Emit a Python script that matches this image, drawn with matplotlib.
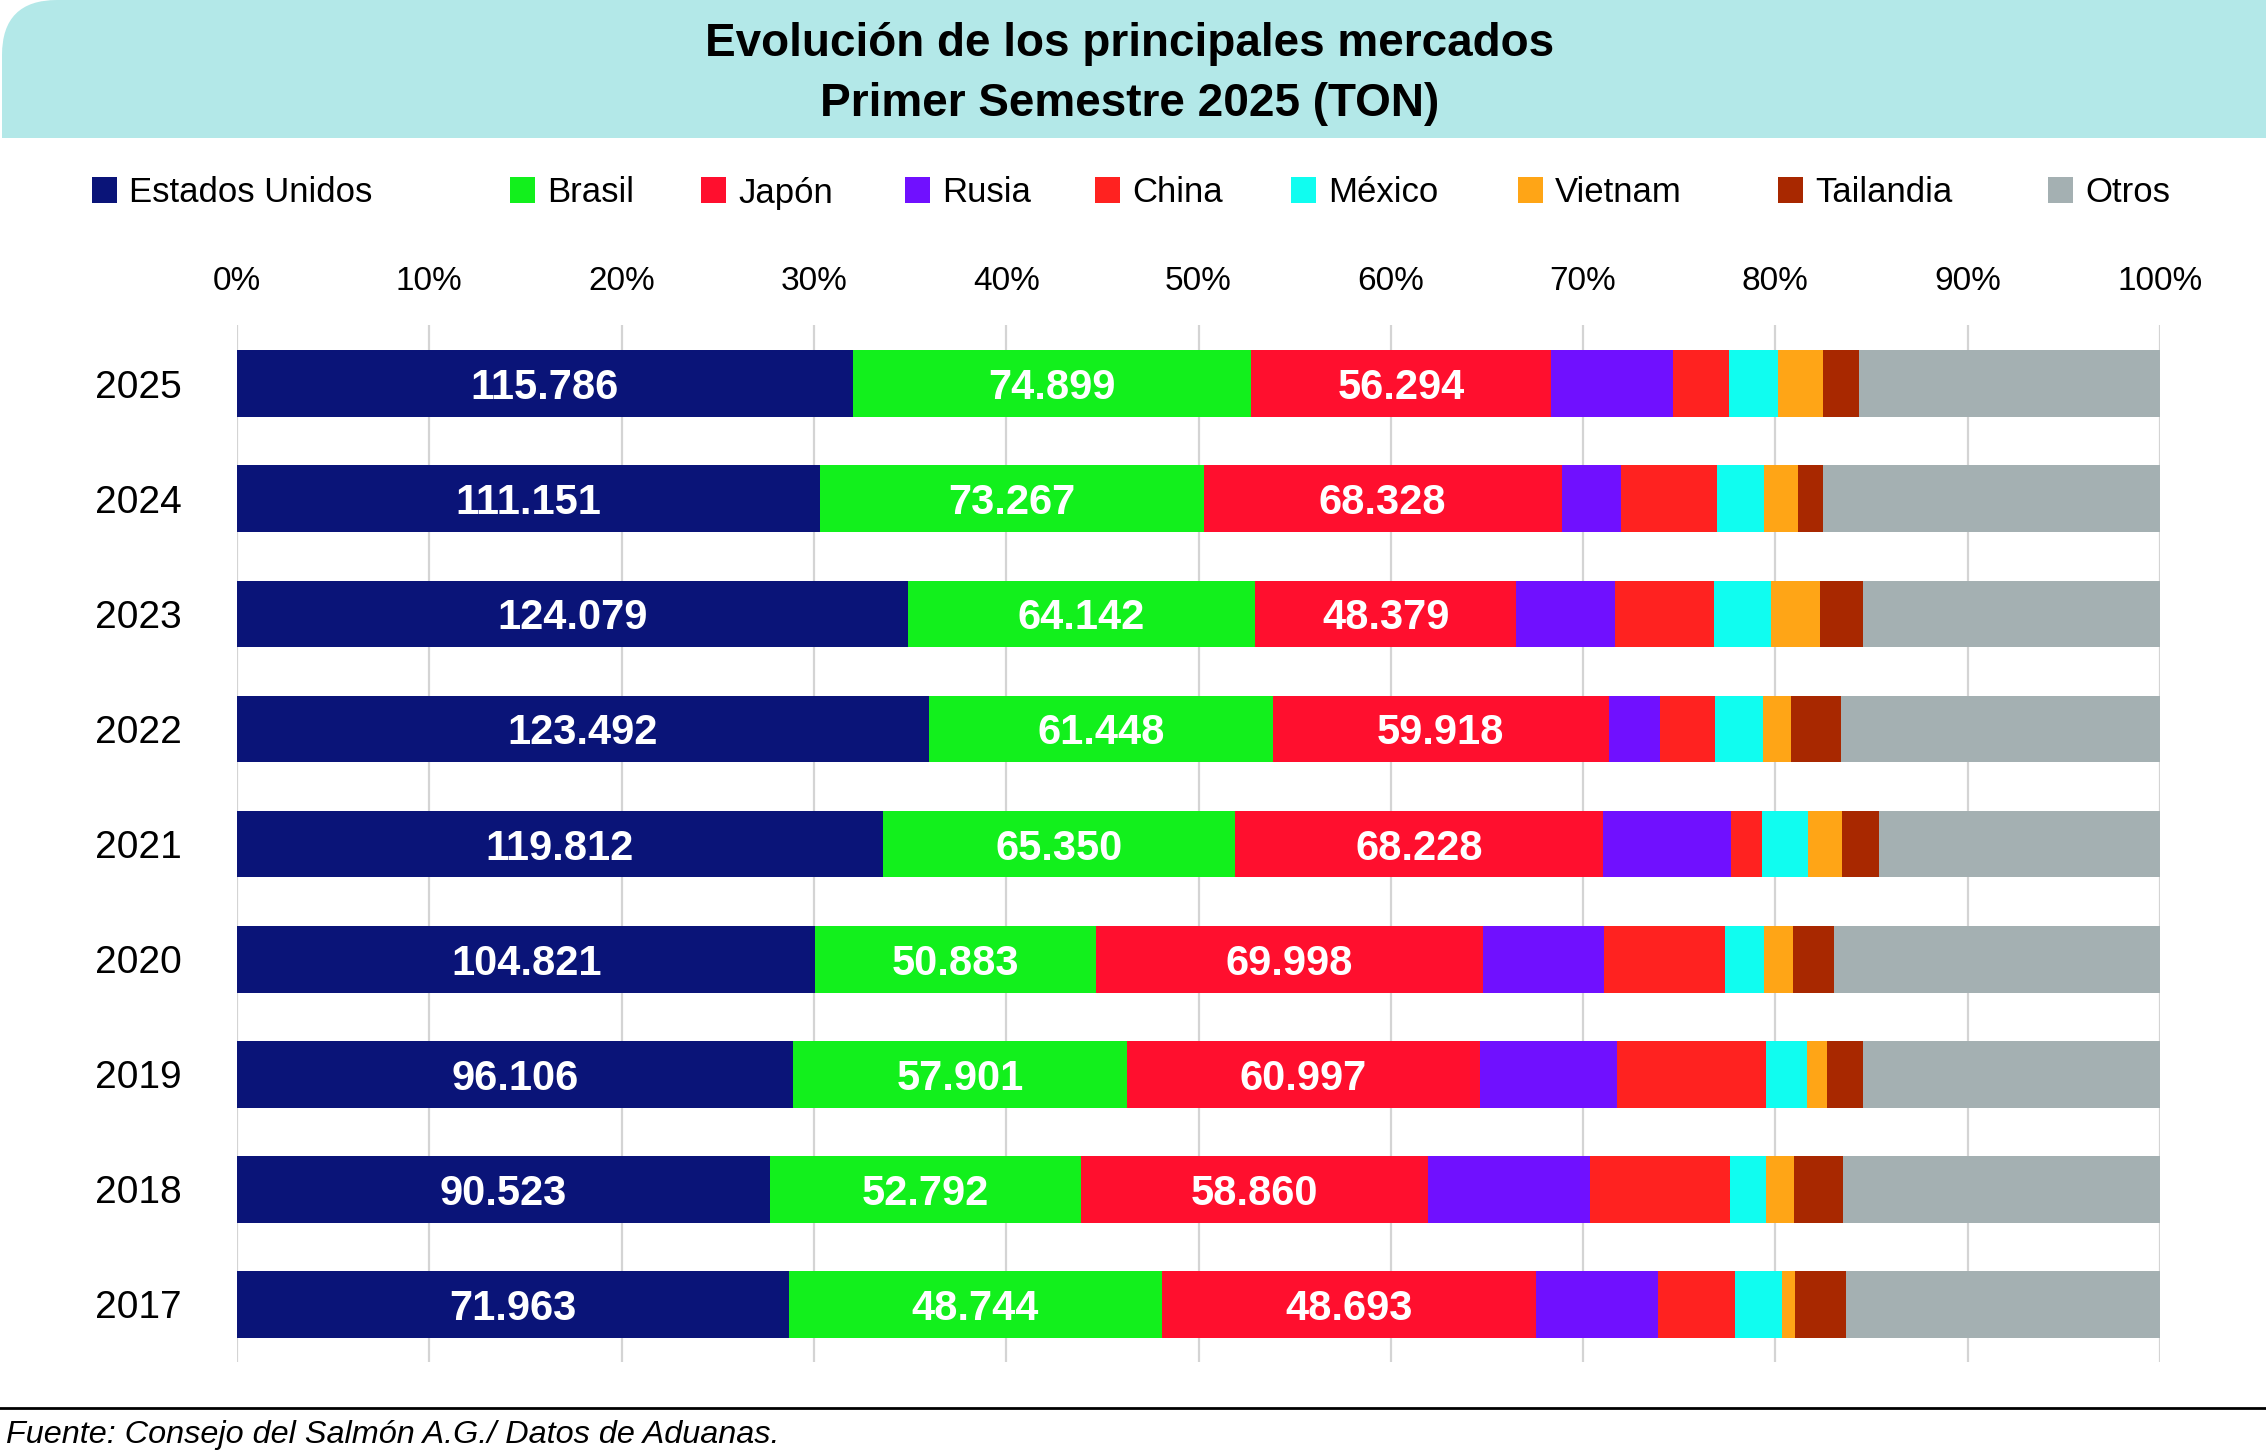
import matplotlib.pyplot as plt
from matplotlib.patches import Rectangle, PathPatch
from matplotlib.path import Path
from matplotlib.lines import Line2D
import numpy as np

plt.rcParams['font.family'] = ['Liberation Sans', 'DejaVu Sans']

# Data (toneladas), ordenado de arriba hacia abajo
years = ['2025', '2024', '2023', '2022', '2021', '2020', '2019', '2018', '2017']
estados_unidos = [115786, 111151, 124079, 123492, 119812, 104821, 96106, 90523, 71963]
brasil = [74899, 73267, 64142, 61448, 65350, 50883, 57901, 52792, 48744]
japon = [56294, 68328, 48379, 59918, 68228, 69998, 60997, 58860, 48693]
rusia = [22920, 11337, 18208, 9200, 23794, 21988, 23719, 27525, 15979]
china = [10592, 18271, 18315, 9783, 5708, 21918, 25782, 23737, 10059]
mexico = [9218, 8952, 10527, 8651, 8597, 7074, 7119, 6106, 6121]
vietnam = [8423, 6567, 9033, 4909, 6279, 5192, 3360, 4865, 1706]
tailandia = [6832, 4696, 8108, 8925, 6849, 7562, 6287, 8293, 6673]
otros = [56539, 64315, 54838, 56949, 52119, 59030, 51397, 53809, 40914]

markets = ['Estados Unidos', 'Brasil', 'Japón', 'Rusia', 'China', 'México',
           'Vietnam', 'Tailandia', 'Otros']
series = [estados_unidos, brasil, japon, rusia, china, mexico, vietnam, tailandia, otros]
colors = ['#0a1478', '#12f01c', '#ff0f2e', '#7010ff', '#ff2220', '#10fdf0',
          '#ffa516', '#a82800', '#a4b0b2']
labeled = ['Estados Unidos', 'Brasil', 'Japón']

W, H = 2266, 1455
fig = plt.figure(figsize=(W / 100, H / 100), dpi=100)

# Banner del titulo con esquina superior izquierda redondeada
r = 55
bot = 138
verts = [(2, H - bot), (2, H - r), (2, H), (2 + r, H), (W, H), (W, H - bot), (2, H - bot)]
codes = [Path.MOVETO, Path.LINETO, Path.CURVE3, Path.CURVE3, Path.LINETO, Path.LINETO, Path.CLOSEPOLY]
verts = [(x / W, y / H) for x, y in verts]
fig.add_artist(PathPatch(Path(verts, codes), facecolor='#b3e8e8', edgecolor='none',
                         transform=fig.transFigure))

fig.text(1130 / W, 1 - 44 / H, 'Evolución de los principales mercados', ha='center', va='center',
         fontsize=33, fontweight='bold')
fig.text(1130 / W, 1 - 104 / H, 'Primer Semestre 2025 (TON)', ha='center', va='center',
         fontsize=33, fontweight='bold')

# Leyenda
marker_x = [92, 510, 701, 905, 1095, 1291, 1518, 1778, 2048]
for name, col, mx in zip(markets, colors, marker_x):
    fig.add_artist(Rectangle((mx / W, 1 - 203 / H), 25 / W, 26 / H, facecolor=col,
                             edgecolor='none', transform=fig.transFigure))
    fig.text((mx + 37) / W, 1 - 193 / H, name, ha='left', va='center', fontsize=25)

ax = fig.add_axes([237 / W, 1 - 1362 / H, (2160 - 237) / W, (1362 - 325) / H])

ypos = np.arange(len(years))[::-1]
totals = np.sum(np.array(series), axis=0)
left = np.zeros(len(years))
for name, vals, col in zip(markets, series, colors):
    share = np.array(vals) / totals * 100
    ax.barh(ypos, share, left=left, height=0.58, color=col, edgecolor='none', zorder=2)
    if name in labeled:
        for y, l, s, v in zip(ypos, left, share, vals):
            ax.text(l + s / 2, y, f'{v:,}'.replace(',', '.'), ha='center', va='center_baseline',
                    color='white', fontsize=30, fontweight='bold', zorder=3)
    left += share

ax.set_xlim(0, 100)
ax.set_ylim(-0.5, 8.51)
ax.xaxis.tick_top()
ax.set_xticks(range(0, 101, 10))
ax.set_xticklabels([f'{t}%' for t in range(0, 101, 10)], fontsize=24)
ax.set_yticks(ypos)
ax.set_yticklabels(years, fontsize=28)
ax.tick_params(axis='x', length=0, pad=20)
ax.tick_params(axis='y', length=0, pad=40)
ax.grid(axis='x', color='#d4d4d4', lw=1.6, zorder=0)
ax.set_axisbelow(True)
for sp in ax.spines.values():
    sp.set_visible(False)

# Linea inferior y fuente
fig.add_artist(Line2D([0, 1], [1 - 1408 / H, 1 - 1408 / H], transform=fig.transFigure,
                      color='black', lw=2))
fig.text(6 / W, 1 - 1435 / H, 'Fuente: Consejo del Salmón A.G./ Datos de Aduanas.',
         ha='left', va='center', fontsize=23.3, style='italic')

fig.savefig('out.png', dpi=100)
